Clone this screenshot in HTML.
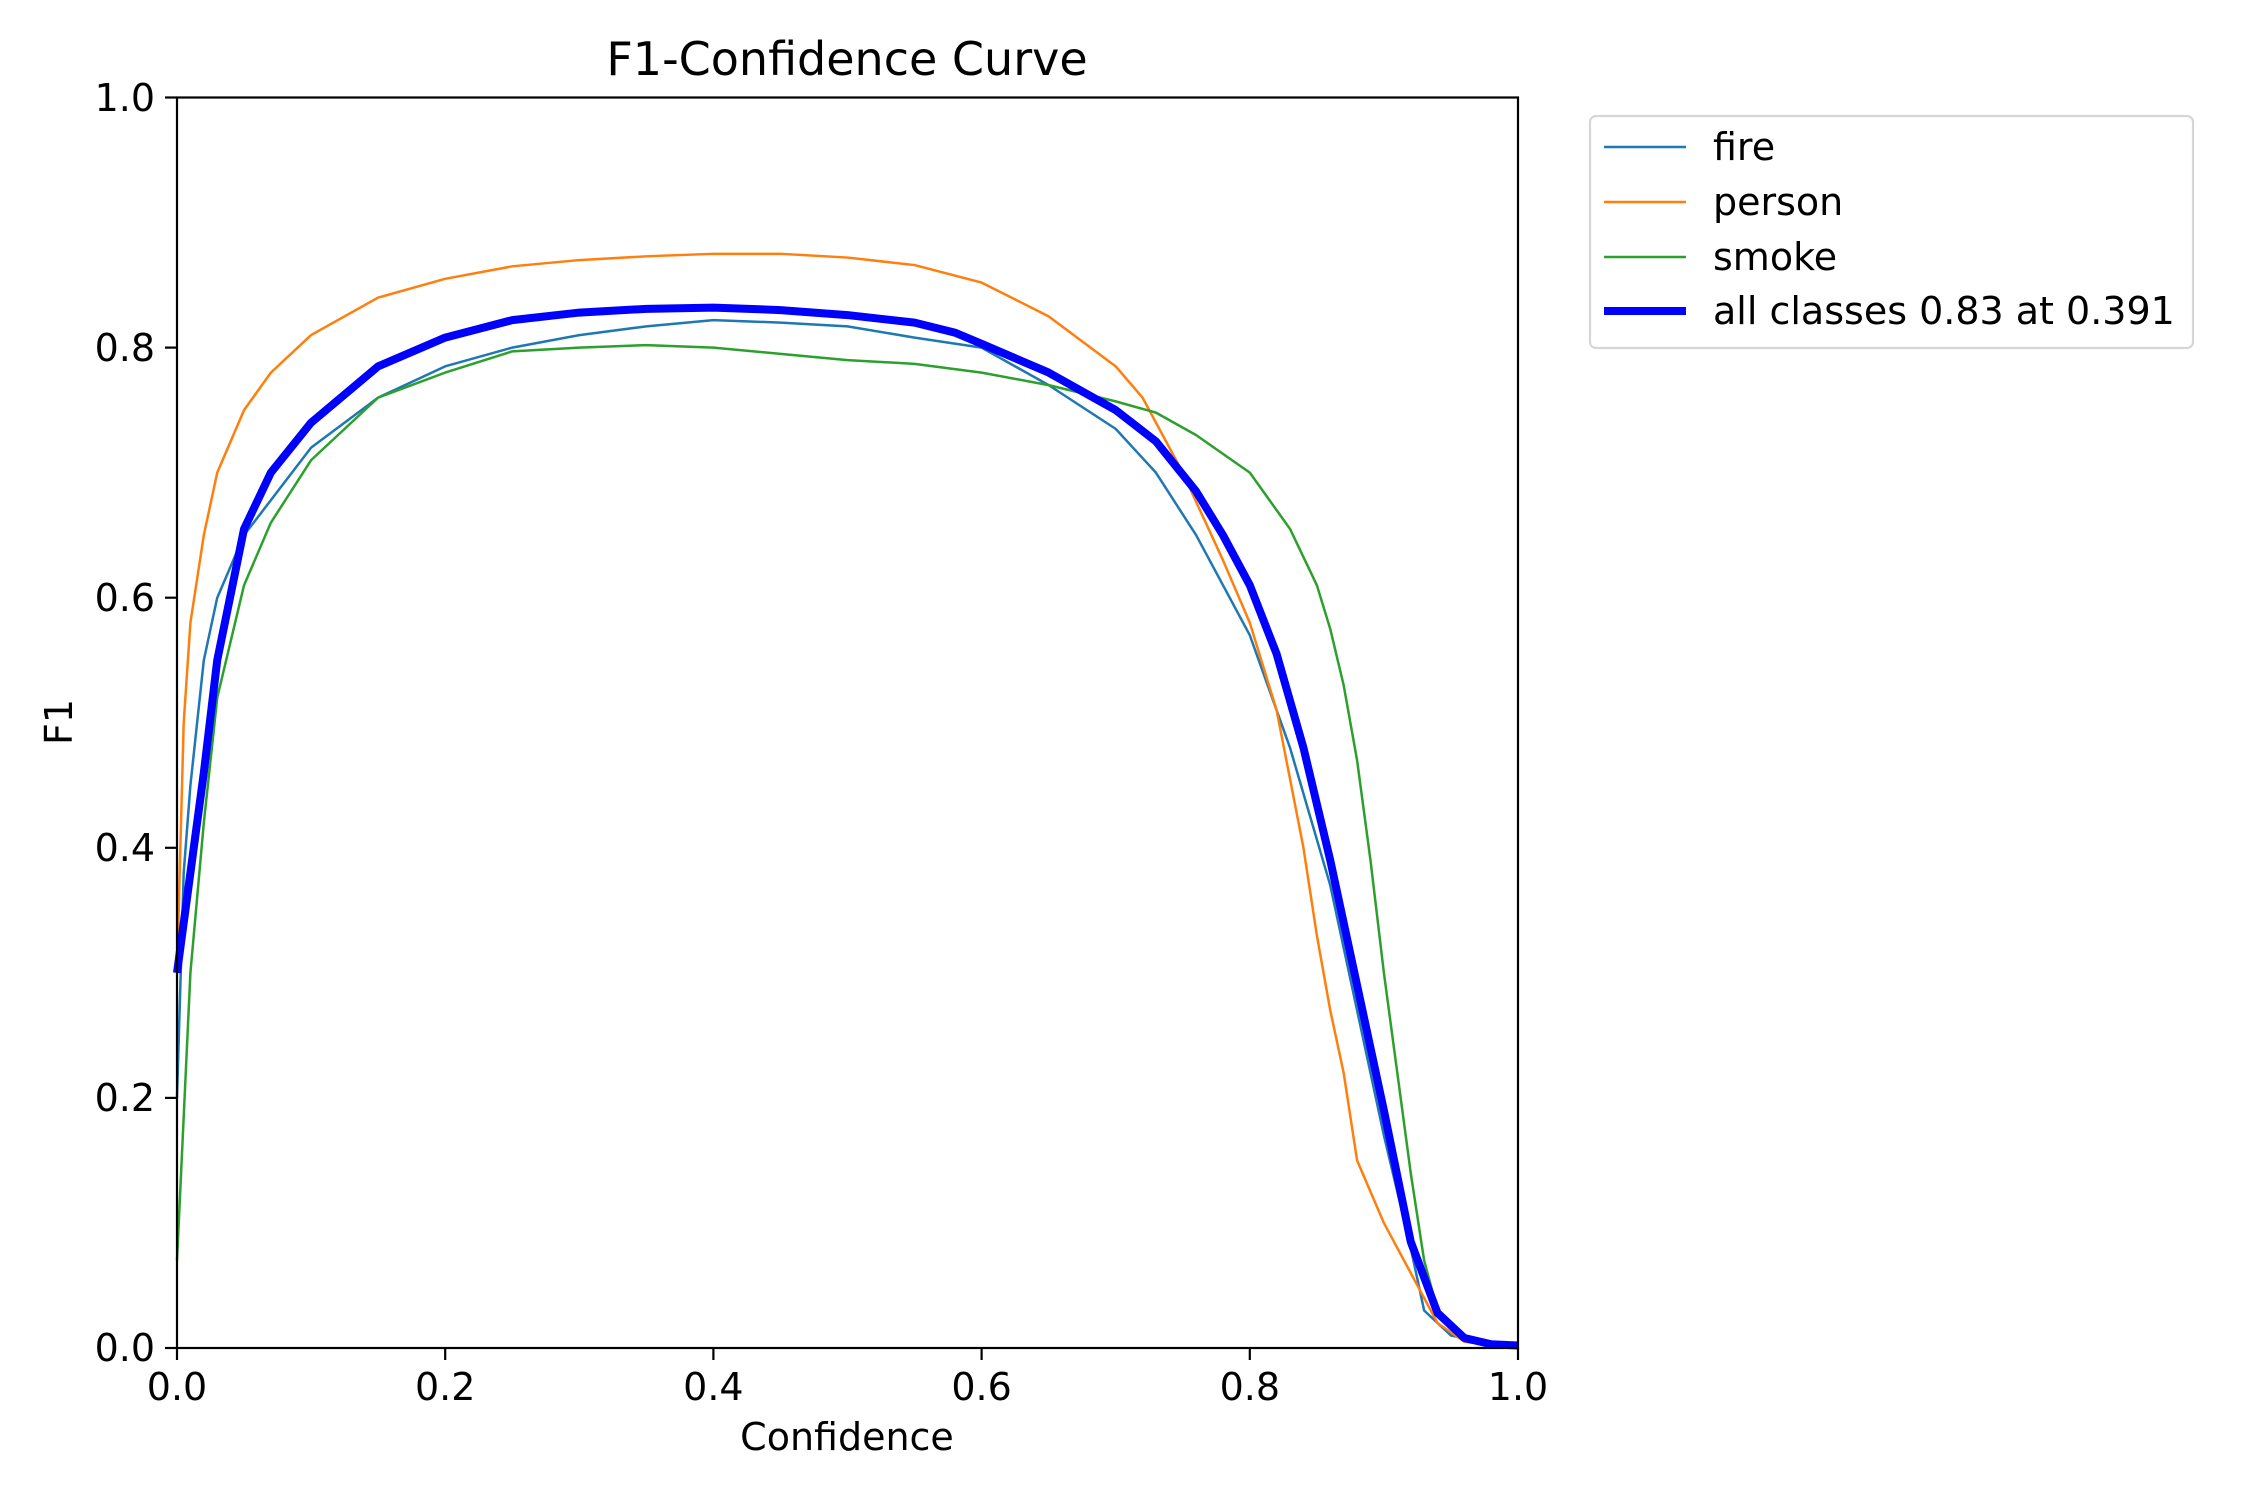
<!DOCTYPE html>
<html><head><meta charset="utf-8"><style>
body{margin:0;background:#fff}
svg text{font-family:"DejaVu Sans","Liberation Sans",sans-serif;fill:#000}
</style></head><body>
<svg width="2250" height="1500" xmlns="http://www.w3.org/2000/svg">
<rect width="2250" height="1500" fill="#fff"/>
<g transform="translate(177,1348) scale(1341,-1250.5)" fill="none" stroke-linejoin="round">
<polyline vector-effect="non-scaling-stroke" stroke="#1f77b4" stroke-width="2.5" points="0,0.2 0.005,0.38 0.01,0.45 0.02,0.55 0.03,0.6 0.05,0.65 0.1,0.72 0.15,0.76 0.2,0.785 0.25,0.8 0.3,0.81 0.35,0.817 0.4,0.822 0.45,0.82 0.5,0.817 0.55,0.808 0.6,0.8 0.65,0.77 0.7,0.735 0.73,0.7 0.76,0.65 0.8,0.57 0.83,0.48 0.86,0.37 0.88,0.27 0.9,0.17 0.92,0.08 0.93,0.03 0.95,0.01 1,0"/>
<polyline vector-effect="non-scaling-stroke" stroke="#ff7f0e" stroke-width="2.5" points="0,0.3 0.005,0.5 0.01,0.58 0.02,0.65 0.03,0.7 0.05,0.75 0.07,0.78 0.1,0.81 0.15,0.84 0.2,0.855 0.25,0.865 0.3,0.87 0.35,0.873 0.4,0.875 0.45,0.875 0.5,0.872 0.55,0.866 0.6,0.852 0.65,0.825 0.7,0.785 0.72,0.76 0.75,0.7 0.78,0.63 0.8,0.58 0.82,0.51 0.84,0.4 0.85,0.33 0.86,0.27 0.87,0.22 0.88,0.15 0.9,0.1 0.92,0.06 0.94,0.02 0.96,0.005 1,0"/>
<polyline vector-effect="non-scaling-stroke" stroke="#2ca02c" stroke-width="2.5" points="0,0.07 0.01,0.3 0.02,0.42 0.03,0.52 0.05,0.61 0.07,0.66 0.1,0.71 0.15,0.76 0.2,0.78 0.25,0.797 0.3,0.8 0.35,0.802 0.4,0.8 0.45,0.795 0.5,0.79 0.55,0.787 0.6,0.78 0.65,0.77 0.7,0.757 0.73,0.748 0.76,0.73 0.8,0.7 0.83,0.655 0.85,0.61 0.86,0.575 0.87,0.53 0.88,0.47 0.89,0.39 0.9,0.3 0.91,0.22 0.92,0.14 0.93,0.07 0.94,0.03 0.96,0.008 1,0"/>
<polyline vector-effect="non-scaling-stroke" stroke="#0000ff" stroke-width="8" points="0,0.3 0.01,0.38 0.02,0.46 0.03,0.55 0.05,0.655 0.07,0.7 0.1,0.74 0.15,0.785 0.2,0.808 0.25,0.822 0.3,0.828 0.35,0.831 0.4,0.832 0.45,0.83 0.5,0.826 0.55,0.82 0.58,0.812 0.6,0.803 0.65,0.78 0.7,0.75 0.73,0.725 0.76,0.685 0.78,0.65 0.8,0.61 0.82,0.555 0.84,0.48 0.86,0.39 0.88,0.29 0.9,0.19 0.92,0.085 0.94,0.028 0.96,0.008 0.98,0.003 1,0.002"/>
</g>
<rect x="177" y="97.5" width="1341" height="1250.5" fill="none" stroke="#000" stroke-width="2.2"/>
<g stroke="#000" stroke-width="2.2">
<line x1="177" y1="1348" x2="177" y2="1360"/><line x1="445.2" y1="1348" x2="445.2" y2="1360"/><line x1="713.4" y1="1348" x2="713.4" y2="1360"/><line x1="981.6" y1="1348" x2="981.6" y2="1360"/><line x1="1249.8" y1="1348" x2="1249.8" y2="1360"/><line x1="1518" y1="1348" x2="1518" y2="1360"/>
<line x1="165" y1="1348" x2="177" y2="1348"/><line x1="165" y1="1097.9" x2="177" y2="1097.9"/><line x1="165" y1="847.8" x2="177" y2="847.8"/><line x1="165" y1="597.7" x2="177" y2="597.7"/><line x1="165" y1="347.6" x2="177" y2="347.6"/><line x1="165" y1="97.5" x2="177" y2="97.5"/>
</g>
<g font-size="38" text-anchor="middle">
<text x="177" y="1400">0.0</text><text x="445.2" y="1400">0.2</text><text x="713.4" y="1400">0.4</text><text x="981.6" y="1400">0.6</text><text x="1249.8" y="1400">0.8</text><text x="1518" y="1400">1.0</text>
</g>
<g font-size="38" text-anchor="end">
<text x="155" y="1361">0.0</text><text x="155" y="1111">0.2</text><text x="155" y="861">0.4</text><text x="155" y="611">0.6</text><text x="155" y="361">0.8</text><text x="155" y="111">1.0</text>
</g>
<text x="847" y="1450" font-size="38" text-anchor="middle">Confidence</text>
<text transform="translate(72,722) rotate(-90)" font-size="38" text-anchor="middle">F1</text>
<text x="847" y="75" font-size="46" text-anchor="middle">F1-Confidence Curve</text>
<rect x="1590" y="116" width="603" height="232" rx="6" fill="#fff" stroke="#d6d6d6" stroke-width="2.2"/>
<line x1="1604" y1="147" x2="1686" y2="147" stroke="#1f77b4" stroke-width="2.5"/>
<line x1="1604" y1="202" x2="1686" y2="202" stroke="#ff7f0e" stroke-width="2.5"/>
<line x1="1604" y1="257" x2="1686" y2="257" stroke="#2ca02c" stroke-width="2.5"/>
<line x1="1604" y1="311" x2="1686" y2="311" stroke="#0000ff" stroke-width="8"/>
<g font-size="38">
<text x="1713" y="160">fire</text><text x="1713" y="215">person</text><text x="1713" y="270">smoke</text><text x="1713" y="324">all classes 0.83 at 0.391</text>
</g>
</svg>
</body></html>
